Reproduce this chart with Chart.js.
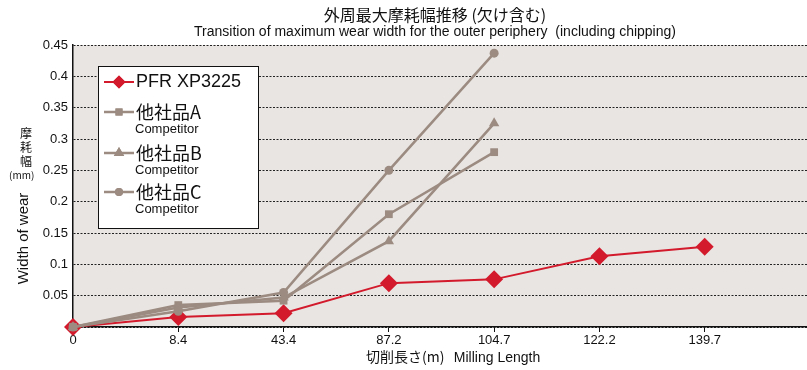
<!DOCTYPE html>
<html>
<head>
<meta charset="utf-8">
<script src="https://cdn.jsdelivr.net/npm/chart.js@4"></script>
<style>
body{margin:0;background:#fff;}
#wrap{position:relative;width:807px;height:370px;overflow:hidden;font-family:"Liberation Sans",Arial,sans-serif;color:#111;}
canvas{position:absolute;left:0;top:0;}
.t{position:absolute;white-space:nowrap;}
.jc{position:absolute;left:17px;width:18px;text-align:center;font-size:12px;line-height:13px;font-family:'Noto Sans CJK JP',sans-serif;}
</style>
</head>
<body>
<div id="wrap">
<canvas id="chart" width="811" height="370"></canvas>
<div class="t" style="left:0;width:870px;text-align:center;top:2px;font-size:16px;font-family:'Noto Sans CJK JP',sans-serif;">外周最大摩耗幅推移 (欠け含む)</div>
<div class="t" style="left:0;width:870px;text-align:center;top:23px;font-size:14px;">Transition of maximum wear width for the outer periphery&nbsp; (including chipping)</div>
<div class="jc" style="top:126px;">摩</div>
<div class="jc" style="top:140px;">耗</div>
<div class="jc" style="top:154px;">幅</div>
<div class="t" style="left:9px;top:167px;font-size:10px;font-family:'Noto Sans CJK JP',sans-serif;">(mm)</div>
<div class="t" style="left:-28px;top:230px;width:100px;text-align:center;font-size:15px;transform:rotate(-90deg);">Width of wear</div>
<div class="t" style="left:366px;top:346px;font-size:14px;font-family:'Noto Sans CJK JP',sans-serif;">切削長さ(m)&nbsp;&nbsp;&nbsp;<span style="font-family:'Liberation Sans',sans-serif;font-size:14px;">Milling Length</span></div>
</div>
<script>
// 切削長さ (m)
var labels = ['0', '8.4', '43.4', '87.2', '104.7', '122.2', '139.7', ''];
// 摩耗幅 (mm)
var pfr = [0, 0.016, 0.022, 0.070, 0.076, 0.113, 0.128];
var compA = [0, 0.035, 0.042, 0.180, 0.279];
var compB = [0, 0.031, 0.047, 0.137, 0.325];
var compC = [0, 0.025, 0.055, 0.250, 0.437];
var yTicks = [0, 0.05, 0.1, 0.15, 0.2, 0.25, 0.3, 0.35, 0.4, 0.45];

var red = '#d21a2c';
var gray = '#9b8b81';

var plotBg = {
  id: 'plotBg',
  beforeDraw: function(chart) {
    var a = chart.chartArea, ctx = chart.ctx;
    ctx.save();
    ctx.fillStyle = '#e9e5e2';
    ctx.fillRect(a.left, a.top, a.right - a.left, a.bottom - a.top);
    ctx.restore();
  }
};

// legend box drawn on the canvas
var legendBox = {
  id: 'legendBox',
  afterDraw: function(chart) {
    var ctx = chart.ctx;
    ctx.save();
    ctx.fillStyle = '#fff';
    ctx.fillRect(98, 66, 160, 162);
    ctx.strokeStyle = '#111';
    ctx.lineWidth = 1;
    ctx.strokeRect(98.5, 66.5, 160, 162);
    var items = [
      {y: 82, color: red, style: 'rectRot', r: 6.5, name: 'PFR XP3225', sub: null},
      {y: 112, color: gray, style: 'rect', r: 5, name: '他社品A', sub: 'Competitor'},
      {y: 153, color: gray, style: 'triangle', r: 6, name: '他社品B', sub: 'Competitor'},
      {y: 192, color: gray, style: 'circle', r: 4, name: '他社品C', sub: 'Competitor'}
    ];
    items.forEach(function(it) {
      ctx.strokeStyle = it.color;
      ctx.lineWidth = it.color == red ? 2 : 2.5;
      ctx.beginPath();
      ctx.moveTo(104, it.y);
      ctx.lineTo(134, it.y);
      ctx.stroke();
      ctx.fillStyle = it.color;
      Chart.helpers.drawPoint(ctx, {pointStyle: it.style, radius: it.r, rotation: 0, borderWidth: 0}, 119, it.y);
      ctx.fill();
      ctx.fillStyle = '#111';
      ctx.textBaseline = 'middle';
      ctx.font = it.sub ? '18px "Noto Sans CJK JP", sans-serif' : '18px "Liberation Sans", sans-serif';
      ctx.fillText(it.name, 136, it.y);
      if (it.sub) {
        ctx.font = '13px "Liberation Sans Narrow", "Liberation Sans", sans-serif';
        ctx.fillText(it.sub, 135, it.y + 17);
      }
    });
    ctx.restore();
  }
};

function ds(label, data, color, style, r, w) {
  return {
    label: label,
    data: data,
    borderColor: color,
    backgroundColor: color,
    borderWidth: w,
    pointStyle: style,
    pointRadius: r,
    pointHoverRadius: r,
    pointBorderWidth: 0,
    tension: 0,
    clip: false
  };
}

new Chart(document.getElementById('chart'), {
  type: 'line',
  data: {
    labels: labels,
    datasets: [
      ds('他社品C', compC, gray, 'circle', 4.5, 2.5),
      ds('他社品B', compB, gray, 'triangle', 6, 2.5),
      ds('他社品A', compA, gray, 'rect', 5.5, 2.5),
      ds('PFR XP3225', pfr, red, 'rectRot', 9, 2)
    ]
  },
  options: {
    responsive: false,
    animation: false,
    layout: {autoPadding: false, padding: {top: 45, right: 0, left: 0, bottom: 0}},
    plugins: {legend: {display: false}, tooltip: {enabled: false}},
    scales: {
      x: {
        offset: false,
        grid: {display: true, drawOnChartArea: false, drawTicks: true, tickLength: 5, color: '#111'},
        border: {color: '#111', width: 1.5},
        ticks: {color: '#111', font: {size: 13, family: '"Liberation Sans", Arial, sans-serif'}, padding: 1, maxRotation: 0, autoSkip: false},
        afterFit: function(s) { s.height = 43; }
      },
      y: {
        min: 0,
        max: 0.45,
        afterBuildTicks: function(s) { s.ticks = yTicks.map(function(v) { return {value: v}; }); },
        grid: {color: '#222', lineWidth: 1, drawTicks: false},
        border: {color: '#111', width: 1.5, dash: [2, 1.5]},
        ticks: {
          color: '#111',
          padding: 5,
          font: {size: 13, family: '"Liberation Sans", Arial, sans-serif'},
          callback: function(v) { return v === 0 ? '' : String(Math.round(v * 100) / 100); }
        },
        afterFit: function(s) { s.width = 73; }
      }
    }
  },
  plugins: [plotBg, legendBox]
});
</script>
</body>
</html>
